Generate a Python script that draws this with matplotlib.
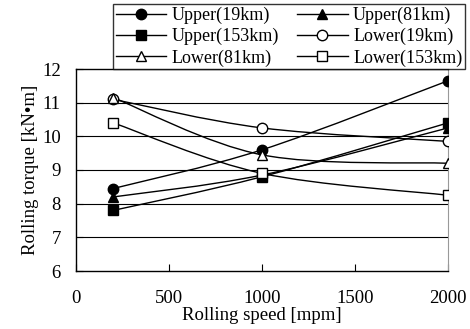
import numpy as np
import matplotlib
matplotlib.use("Agg")
import matplotlib.pyplot as plt
from matplotlib.path import Path
from matplotlib.patches import PathPatch
from matplotlib.lines import Line2D

plt.rcParams['font.family'] = ['Liberation Serif', 'DejaVu Serif']

# data
speed = [200, 1000, 2000]
upper_19 = [8.45, 9.6, 11.65]
upper_81 = [8.2, 8.85, 10.25]
upper_153 = [7.8, 8.8, 10.4]
lower_19 = [11.1, 10.25, 9.85]
lower_81 = [11.15, 9.45, 9.2]
lower_153 = [10.4, 8.9, 8.25]

labels = ['Upper(19km)', 'Upper(81km)', 'Upper(153km)',
          'Lower(19km)', 'Lower(81km)', 'Lower(153km)']
series = [upper_19, upper_81, upper_153, lower_19, lower_81, lower_153]
markers = ['o', '^', 's', 'o', '^', 's']
fills = ['black', 'black', 'black', 'white', 'white', 'white']


def smooth_path(x, y):
    # excel-like smoothed line, bezier segments through the data points
    pts = np.column_stack([x, y]).astype(float)
    n = len(pts)
    verts = [pts[0]]
    codes = [Path.MOVETO]
    for i in range(n - 1):
        p0 = pts[i - 1] if i > 0 else pts[i]
        p1 = pts[i]
        p2 = pts[i + 1]
        p3 = pts[i + 2] if i + 2 < n else pts[i + 1]
        c1 = p1 + (p2 - p0) / 6.0
        c2 = p2 - (p3 - p1) / 6.0
        verts += [c1, c2, p2]
        codes += [Path.CURVE4] * 3
    return Path(verts, codes)


fig = plt.figure(figsize=(4.7, 3.29), dpi=100)
ax = fig.add_axes([76 / 470, 1 - 271 / 329, 372 / 470, 202 / 329])

handles = []
for vals, m, fc, lab in zip(series, markers, fills, labels):
    ax.add_patch(PathPatch(smooth_path(speed, vals), fc='none', ec='black',
                           lw=1.0, zorder=3))
    ax.plot(speed, vals, ls='none', marker=m, ms=7.5, mfc=fc, mec='black',
            mew=1.0, zorder=4)
    handles.append(Line2D([], [], color='black', lw=1.0, marker=m, ms=7.5,
                          mfc=fc, mec='black', label=lab))

ax.set_xlim(0, 2000)
ax.set_ylim(6, 12)
ax.set_xticks([0, 500, 1000, 1500, 2000])
ax.set_yticks([6, 7, 8, 9, 10, 11, 12])
for yv in [7, 8, 9, 10, 11]:
    ax.axhline(yv, color='black', lw=0.8, zorder=1)
ax.tick_params(direction='in', length=5, width=0.8, labelsize=13.5)
ax.tick_params(axis='x', pad=14)
ax.tick_params(axis='y', pad=11)
ax.spines['right'].set_color('#999999')
for s in ['left', 'bottom', 'top']:
    ax.spines[s].set_linewidth(1.0)

ax.set_xlabel('Rolling speed [mpm]', fontsize=13.5, labelpad=0)
ax.set_ylabel('Rolling torque [kN\u2022m]', fontsize=13.5, labelpad=2)

# row-major order like the reference legend
order = [0, 2, 4, 1, 3, 5]
leg = fig.legend(handles=[handles[i] for i in order], ncol=2, loc='upper left',
                 bbox_to_anchor=(113 / 470, 1 - 4 / 329), fontsize=13,
                 frameon=True, fancybox=False, edgecolor='black',
                 handlelength=2.8, handletextpad=0.3, columnspacing=1.0,
                 labelspacing=0.22, borderpad=0.15, borderaxespad=0)
leg.get_frame().set_linewidth(1.0)

fig.savefig('out.png', dpi=100)
